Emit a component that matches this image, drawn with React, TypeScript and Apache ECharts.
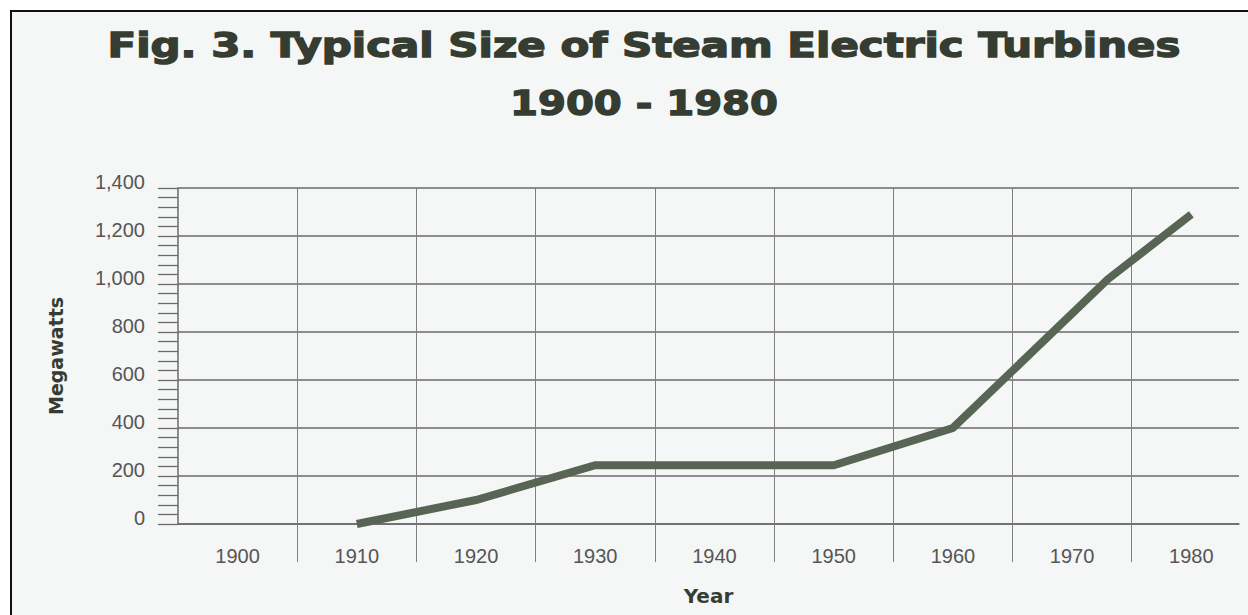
import React, { useEffect, useRef } from "react";
import * as echarts from "echarts";

// ---- data ----
const titleLine1 = "Fig. 3. Typical Size of Steam Electric Turbines";
const titleLine2 = "1900 - 1980";
const yAxisName = "Megawatts";
const xAxisName = "Year";

const labelYears = [1900, 1910, 1920, 1930, 1940, 1950, 1960, 1970, 1980];
const dividerYears = [1905, 1915, 1925, 1935, 1945, 1955, 1965, 1975];

const years = [1910, 1920, 1930, 1940, 1950, 1960, 1973, 1980];
const megawatts = [0, 100, 245, 245, 245, 400, 1020, 1290];

const yMin = 0;
const yMax = 1400;
const yStep = 200;

const measure = (text: string, font: string) => {
  const ctx = document.createElement("canvas").getContext("2d");
  if (!ctx) return 1;
  ctx.font = font;
  return ctx.measureText(text).width || 1;
};

export default function App() {
  const ref = useRef<HTMLDivElement>(null);

  useEffect(() => {
    if (!ref.current) return;
    const chart = echarts.init(ref.current, null, { renderer: "svg" });

    const titleFont = 'bold 34px "DejaVu Sans"';
    const s1 = 1073 / measure(titleLine1, titleFont);
    const s2 = 268 / measure(titleLine2, titleFont);

    const gridColor = "#6a6a6a";
    const vGridColor = "#808080";
    const labelColor = "#555";
    const darkText = "#353d32";

    const titleStyle = {
      fontSize: 34,
      fontWeight: "bold",
      fontFamily: "DejaVu Sans",
      fill: darkText,
      stroke: darkText,
      lineWidth: 1.4,
      textAlign: "center",
      align: "center",
      textVerticalAlign: "middle",
      verticalAlign: "middle",
    };

    chart.setOption({
      animation: false,
      backgroundColor: "#ffffff",
      graphic: [
        {
          type: "rect",
          z: -10,
          silent: true,
          shape: { x: 11, y: 11, width: 1300, height: 700 },
          style: { fill: "#f5f6f6", stroke: "#111", lineWidth: 2 },
        },
        {
          type: "text",
          z: 10,
          x: 644,
          y: 45,
          scaleX: s1,
          style: { ...titleStyle, text: titleLine1 },
        },
        {
          type: "text",
          z: 10,
          x: 644,
          y: 103,
          scaleX: s2,
          style: { ...titleStyle, text: titleLine2 },
        },
      ],
      grid: { left: 178, right: 9, top: 188, bottom: 91, containLabel: false },
      xAxis: {
        type: "value",
        min: 1895,
        max: 1984,
        interval: 10,
        name: xAxisName,
        nameLocation: "middle",
        nameGap: 62,
        nameTextStyle: {
          fontSize: 20,
          fontWeight: "bold",
          fontFamily: "DejaVu Sans",
          color: darkText,
        },
        axisLine: { show: true, lineStyle: { color: gridColor, width: 1.5 } },
        axisTick: {
          show: true,
          inside: false,
          length: 38,
          customValues: dividerYears,
          lineStyle: { color: vGridColor, width: 1 },
        },
        axisLabel: {
          show: true,
          customValues: labelYears,
          margin: 22,
          fontSize: 20,
          fontFamily: "Liberation Sans",
          color: labelColor,
          formatter: (v: number) => String(v),
        },
        splitLine: { show: true, lineStyle: { color: vGridColor, width: 1 } },
      },
      yAxis: {
        type: "value",
        min: yMin,
        max: yMax,
        interval: yStep,
        name: yAxisName,
        nameLocation: "middle",
        nameRotate: 90,
        nameGap: 113,
        nameTextStyle: {
          fontSize: 19,
          fontWeight: "bold",
          fontFamily: "DejaVu Sans",
          color: darkText,
        },
        axisLine: { show: true, lineStyle: { color: gridColor, width: 1.5 } },
        axisTick: {
          show: true,
          inside: false,
          length: 20,
          lineStyle: { color: gridColor, width: 1.3 },
        },
        minorTick: {
          show: true,
          splitNumber: 5,
          length: 20,
          lineStyle: { color: gridColor, width: 1.3 },
        },
        axisLabel: {
          margin: 33,
          fontSize: 20,
          fontFamily: "Liberation Sans",
          color: labelColor,
          verticalAlign: "bottom",
          lineHeight: 12,
          formatter: (v: number) => v.toLocaleString("en-US"),
        },
        splitLine: { show: true, lineStyle: { color: gridColor, width: 1.5 } },
      },
      series: [
        {
          type: "line",
          data: years.map((y, i) => [y, megawatts[i]]),
          symbol: "none",
          clip: false,
          z: 5,
          lineStyle: { color: "#586454", width: 8, cap: "butt", join: "miter" },
        },
      ],
    });

    return () => chart.dispose();
  }, []);

  return (
    <div
      ref={ref}
      style={{ position: "fixed", left: 0, top: 0, width: 1248, height: 615 }}
    />
  );
}
